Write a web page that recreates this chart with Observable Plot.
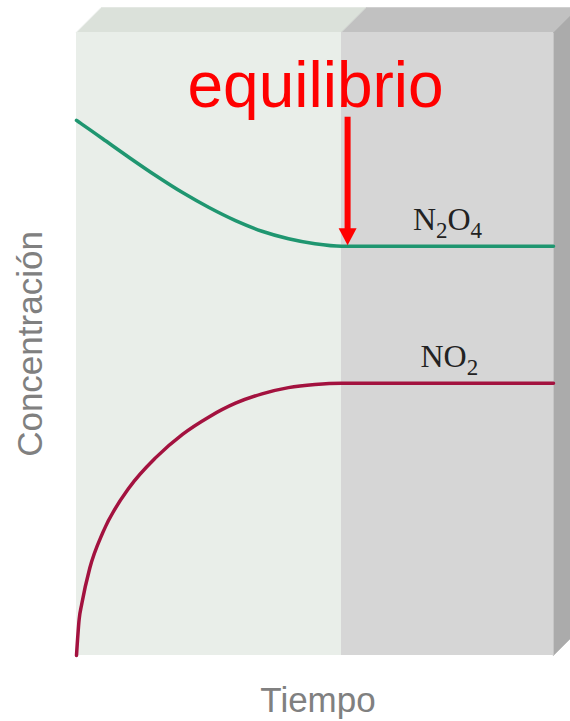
<!DOCTYPE html>
<html>
<head>
<meta charset="utf-8">
<script src="https://cdn.jsdelivr.net/npm/d3@7"></script>
<script src="https://cdn.jsdelivr.net/npm/@observablehq/plot@0.6"></script>
<style>
  html, body { margin: 0; padding: 0; background: #ffffff; }
  #chart svg { display: block; }
</style>
</head>
<body>
<div id="chart"></div>
<script>
// ---- data ----
const time = [0, 0.1, 0.2, 0.5, 1, 2, 3, 4, 5, 6, 7, 8, 9, 10, 18];
const n2o4 = [0.859, 0.856, 0.853, 0.844, 0.829, 0.799, 0.770, 0.743, 0.719, 0.698, 0.681, 0.669, 0.661, 0.657, 0.657];
const no2  = [0.000, 0.058, 0.083, 0.140, 0.198, 0.270, 0.318, 0.355, 0.383, 0.405, 0.420, 0.430, 0.435, 0.437, 0.437];
const seriesNames = ["N2O4", "NO2"];
const equilibriumTime = 10;
const endTime = 18;
const regionStart = [0, equilibriumTime];
const regionEnd = [equilibriumTime, endTime];
const arrowTime = [10.23];
const arrowTop = [0.864];
const labelTime = [14.0, 14.07];
const labelValue = [0.700, 0.480];
const titleTime = [9.02];
const titleValue = [0.914];
const titleText = ["equilibrio"];
const xLabel = "Tiempo";
const yLabel = "Concentración";

// ---- layout / style ----
const W = 570, H = 721, mL = 76, mR = 17, mT = 32, mB = 66;
const depthPx = 25;
const ddx = depthPx * endTime / (W - mL - mR);
const ddy = depthPx * 1 / (H - mT - mB);
const faceColors = ["#e9eee9", "#d6d6d6"];
const topColors = ["#dbe1da", "#c1c1c1"];
const sideColor = "#ababab";
const lineColors = ["#1f9670", "#a3123f"];

const rows = (vals) => time.map((t, i) => ({t, c: vals[i]}));
const seriesData = [rows(n2o4), rows(no2)];

const bevelMarks = regionStart.map((s, i) => {
  const e = regionEnd[i];
  const poly = [{x: s, y: 1}, {x: e, y: 1}, {x: e + ddx, y: 1 + ddy}, {x: s + ddx, y: 1 + ddy}];
  return Plot.line(poly, {x: "x", y: "y", fill: topColors[i], stroke: topColors[i], strokeWidth: 0.5, curve: "linear-closed"});
});
const sidePoly = [{x: endTime, y: 1}, {x: endTime + ddx, y: 1 + ddy}, {x: endTime + ddx, y: ddy}, {x: endTime, y: 0}];

const regions = regionStart.map((s, i) => ({x1: s, x2: regionEnd[i], fill: faceColors[i]}));

const arrow = arrowTime.map((t, i) => ({t, top: arrowTop[i], tip: n2o4[time.indexOf(equilibriumTime)]}));

const triDown = {
  draw(ctx) {
    ctx.moveTo(0, 0);
    ctx.lineTo(-9, -17);
    ctx.lineTo(9, -17);
    ctx.closePath();
  }
};

const labels = seriesNames.map((name, i) => ({name, t: labelTime[i], c: labelValue[i]}));
const titles = titleText.map((s, i) => ({s, t: titleTime[i], c: titleValue[i]}));

const chart = Plot.plot({
  width: W,
  height: H,
  marginLeft: mL,
  marginRight: mR,
  marginTop: mT,
  marginBottom: mB,
  x: {domain: [0, endTime], axis: null},
  y: {domain: [0, 1], axis: null},
  style: {background: "transparent", overflow: "visible"},
  marks: [
    ...bevelMarks,
    Plot.line(sidePoly, {x: "x", y: "y", fill: sideColor, stroke: sideColor, strokeWidth: 0.5, curve: "linear-closed"}),
    Plot.rect(regions, {x1: "x1", x2: "x2", y1: 0, y2: 1, fill: d => d.fill}),
    ...seriesData.map((d, i) => Plot.line(d, {x: "t", y: "c", stroke: lineColors[i], strokeWidth: 3.5, curve: "monotone-x"})),
    Plot.ruleX(arrow, {x: "t", y1: "top", y2: "tip", stroke: "#ff0000", strokeWidth: 6, insetBottom: 15}),
    Plot.dot(arrow, {x: "t", y: "tip", symbol: triDown, fill: "#ff0000", stroke: "none", r: 7, dy: -1}),
    Plot.text(titles, {x: "t", y: "c", text: "s", fill: "#ff0000", fontSize: 64, fontFamily: "Liberation Sans, Arial, sans-serif"}),
    Plot.text(labels, {x: "t", y: "c", text: "name", fill: "#222222", fontSize: 32, fontFamily: "Liberation Serif, Times New Roman, serif"}),
    Plot.text([yLabel], {frameAnchor: "left", dx: -46, rotate: -90, textAnchor: "middle", lineAnchor: "middle", text: d => d, fill: "#808080", fontSize: 35, fontFamily: "Liberation Sans, Arial, sans-serif"}),
    Plot.text([xLabel], {frameAnchor: "bottom", dx: 3, dy: 45, textAnchor: "middle", lineAnchor: "middle", text: d => d, fill: "#808080", fontSize: 35, fontFamily: "Liberation Sans, Arial, sans-serif"})
  ]
});

// chemical-formula subscripts
d3.select(chart).selectAll("text").each(function() {
  const el = d3.select(this);
  const s = el.text();
  if (!seriesNames.includes(s)) return;
  el.text("");
  let sub = false;
  for (const ch of s) {
    const isDigit = /[0-9]/.test(ch);
    const ts = el.append("tspan").text(ch);
    if (isDigit && !sub) { ts.attr("dy", 8).attr("font-size", 23); sub = true; }
    else if (isDigit) { ts.attr("font-size", 23); }
    else if (sub) { ts.attr("dy", -8); sub = false; }
  }
});

document.getElementById("chart").appendChild(chart);
</script>
</body>
</html>
